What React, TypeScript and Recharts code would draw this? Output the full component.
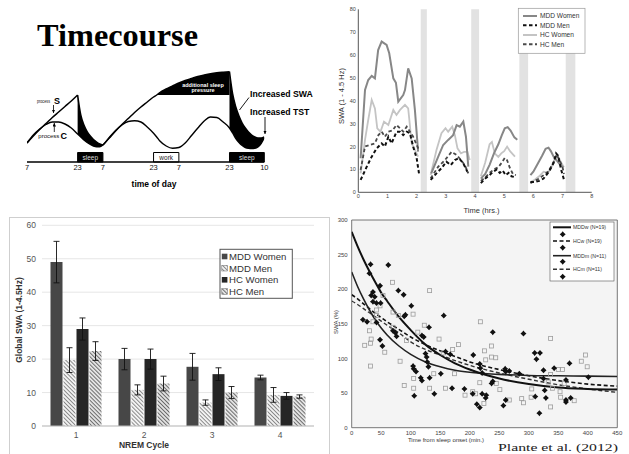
import React from "react";
import {
  ComposedChart,
  BarChart,
  Line,
  Area,
  Bar,
  Scatter,
  ErrorBar,
  XAxis,
  YAxis,
  CartesianGrid,
  ReferenceArea,
} from "recharts";

const FONT = '"Liberation Sans", Arial, sans-serif';

// ---------- Timecourse: two-process model (hours after 07:00 on day 1) ----------
const modelHours = [
  0, 2, 4, 6, 8, 10, 12, 14, 16,
  17, 18, 19, 20, 21, 22, 23, 24,
  26, 28, 30, 32, 34, 36, 38, 40,
  41,
  42, 44, 46, 48, 50, 52, 54, 56, 58, 60, 62, 64,
  65, 66, 67, 68, 69, 70, 71, 72, 73, 74, 75,
];
const processS = [
  19, 26, 32.5, 38.5, 44.5, 50, 55.5, 61, 67,
  47, 37, 30.5, 26, 22.5, 20, 18, 17,
  24, 31, 37.5, 43.5, 49.5, 55, 60, 65,
  67,
  69.5, 73, 76, 79, 81.5, 83.5, 85.5, 87, 88.3, 89.2, 89.8, 90.3,
  68, 55, 46, 39, 34, 30, 27, 25, 24, 24, 25,
];
const processC = [
  19, 27, 33, 37.5, 40, 40, 38, 34, 28,
  25, 22, 19.5, 17.5, 16, 15.3, 15.3, 17,
  24.5, 31.5, 37, 40.5, 41.3, 40, 35, 28.7,
  25,
  21, 16, 13.7, 14.5, 19, 26.5, 34, 41, 45, 44.5, 40, 34,
  29, 23.5, 19.5, 16.5, 14.5, 13.7, 13.5, 13.7, 15, 18.5, 24,
];
const wakePeriods = [[0, 16], [24, 64]];
const sleepPeriods = [[16, 24], [64, 75]];
const normalPeak = 67;
const extraPressure = [41, 64];
const dayTicks = [0, 16, 24, 40, 48, 64, 75];
const dayTickLabels = ["7", "23", "7", "23", "7", "23", "10"];
const boxStart = [16, 40, 64];
const boxEnd = [24, 48, 75];
const boxLabel = ["sleep", "work", "sleep"];

const within = (h: number, periods: number[][]) => periods.some(([a, b]) => h >= a && h <= b);

const modelData = modelHours.map((h, i) => ({
  h,
  c: processC[i],
  sWake: within(h, wakePeriods) ? processS[i] : null,
  sSleep: within(h, sleepPeriods) ? processS[i] : null,
  sleepBand: within(h, sleepPeriods) ? [processC[i], processS[i]] : null,
  extraBand: within(h, [extraPressure]) ? [normalPeak, processS[i]] : null,
}));

// ---------- SWA over the night (top right) ----------
const hourTicks = [0, 1, 2, 3, 4, 5, 6, 7, 8];
const swaTicks = [0, 10, 20, 30, 40, 50, 60, 70, 80];
const remStart = [2.14, 3.87, 5.52, 7.11];
const remEnd = [2.35, 4.14, 5.82, 7.44];

const mddWomenT = [0.08, 0.23, 0.34, 0.46, 0.57, 0.68, 0.8, 0.97, 1.06, 1.2, 1.29, 1.37, 1.54, 1.6, 1.71, 1.83, 1.94, 2.05, 2.2,
  2.5, 2.74, 2.91, 3.08, 3.25, 3.37, 3.48, 3.6, 3.69, 3.77, 3.95,
  4.2, 4.35, 4.5, 4.65, 4.8, 4.92, 5.02, 5.12, 5.22, 5.35, 5.45, 5.6,
  5.9, 6.0, 6.15, 6.3, 6.42, 6.52, 6.6, 6.7, 6.8, 6.92, 7.02];
const mddWomenV = [14.9, 44.7, 49.1, 50.9, 49.8, 62.2, 65.9, 64.4, 60.8, 49.8, 47.9, 39.6, 42.5, 44.7, 54.2, 49.8, 36, 17.8, null,
  8.3, 15.6, 20.7, 22.9, 25, 29.4, 28.7, 30.9, 24.3, 11.2, null,
  6, 8, 12, 17, 21, 25, 28, 28.5, 27, 24, 23, null,
  7.5, 9, 12.5, 16, 19, 19.5, 18, 15.5, 14, 12, 11];

const hcWomenT = [0.08, 0.23, 0.34, 0.46, 0.57, 0.65, 0.76, 0.88, 1.03, 1.2, 1.31, 1.43, 1.6, 1.71, 1.83, 1.94, 2.05, 2.2,
  2.48, 2.68, 2.85, 2.99, 3.08, 3.22, 3.31, 3.4, 3.52, 3.63, 3.74, 3.82, 3.95,
  4.2, 4.35, 4.5, 4.58, 4.68, 4.8, 4.9, 5.0, 5.1, 5.2, 5.37, 5.6,
  5.9, 6.05, 6.2, 6.35, 6.5, 6.6, 6.72, 6.8, 6.88, 6.95, 7.05];
const hcWomenV = [8.3, 22.9, 31.6, 40.4, 36.7, 28, 26.5, 30.9, 29.4, 36, 33.8, 36, 38.2, 36.7, 21.4, 18.5, 15.6, null,
  7.6, 18.5, 25.8, 28, 26.5, 28.7, 25, 19.2, 17, 17.7, 17.7, 14.1, null,
  7, 13, 21, 22, 17, 15.5, 17, 18, 20, 18, 15.6, null,
  4.5, 5.5, 7, 9, 8.5, 10.5, 13.5, 16, 15, 13, 11];

const mddMenT = [0.08, 0.29, 0.46, 0.63, 0.8, 0.91, 1.03, 1.14, 1.31, 1.43, 1.54, 1.66, 1.77, 1.88, 2.0, 2.08, 2.2,
  2.48, 2.68, 2.85, 3.02, 3.17, 3.31, 3.45, 3.6, 3.74, 3.95,
  4.2, 4.35, 4.5, 4.62, 4.75, 4.85, 4.95, 5.05, 5.15, 5.25, 5.4, 5.6,
  5.9, 6.05, 6.2, 6.35, 6.5, 6.6, 6.7, 6.78, 6.85, 6.95, 7.05];
const mddMenV = [5.4, 11.2, 15.6, 19.2, 21.4, 20, 24.3, 21.4, 26.5, 26.5, 25, 26.5, 25.8, 20, 14.9, 8.3, null,
  5.4, 8.3, 10.5, 13.4, 11.9, 14.1, 14.9, 12.6, 9, null,
  4, 6, 7.5, 9, 10, 8.5, 9.5, 7.5, 8.5, 7, 6.5, null,
  4.5, 4.5, 5, 6, 8.5, 10.5, 13, 17, 16, 10, 5.5];

const hcMenT = [0.08, 0.23, 0.4, 0.57, 0.69, 0.8, 0.91, 1.03, 1.17, 1.31, 1.43, 1.54, 1.66, 1.77, 1.88, 2.0, 2.08, 2.2,
  2.48, 2.74, 2.97, 3.2, 3.37, 3.52, 3.65, 3.77, 3.95,
  4.2, 4.35, 4.5, 4.65, 4.8, 4.92, 5.02, 5.1, 5.2, 5.3, 5.4, 5.6,
  5.9, 6.05, 6.2, 6.35, 6.5, 6.62, 6.72, 6.8, 6.9, 7.0, 7.05];
const hcMenV = [9.8, 20, 20.7, 21.4, 25, 26.5, 24.3, 26.5, 27, 29.4, 28, 26.5, 28.7, 26.5, 24.3, 20.7, 18.5, null,
  6.1, 11.2, 14.1, 17.7, 16.3, 14.1, 11.9, 8.3, null,
  5, 6.5, 8.5, 10, 11, 13, 15, 14, 10.5, 8, 7.5, null,
  4, 5, 6, 7.5, 9, 11.5, 14, 16.5, 14, 11, 8];

const toSeries = (t: number[], v: (number | null)[]) => t.map((x, i) => ({ t: x, v: v[i] }));

// ---------- Global SWA per NREM cycle (bottom left) ----------
const cycles = ["1", "2", "3", "4"];
const mddWomenSwa = [49, 20, 17.7, 14.5];
const mddWomenErr = [6.2, 3.2, 4, 0.7];
const mddMenSwa = [19.7, 10.8, 7, 9.3];
const mddMenErr = [3.7, 1.5, 0.8, 2.2];
const hcWomenSwa = [29, 20, 15.5, 9];
const hcWomenErr = [3.3, 3, 1.9, 1];
const hcMenSwa = [22.4, 12.7, 10, 8.8];
const hcMenErr = [2.8, 2.2, 1.8, 0.5];
const globalTicks = [0, 10, 20, 30, 40, 50, 60];

const cycleData = cycles.map((cycle, i) => ({
  cycle,
  mddW: mddWomenSwa[i], mddWErr: mddWomenErr[i],
  mddM: mddMenSwa[i], mddMErr: mddMenErr[i],
  hcW: hcWomenSwa[i], hcWErr: hcWomenErr[i],
  hcM: hcMenSwa[i], hcMErr: hcMenErr[i],
}));

// ---------- SWA decay vs time from sleep onset (bottom right) ----------
const onsetTicks = [0, 50, 100, 150, 200, 250, 300, 350, 400, 450];
const pctTicks = [0, 50, 100, 150, 200, 250, 300];
const fitMinutes = [0, 10, 20, 30, 40, 50, 60, 80, 100, 125, 150, 175, 200, 250, 300, 350, 400, 450];
const fitMddW = [283, 262, 243, 226, 210, 195, 183, 160, 141, 120, 105, 93, 84, 71, 63, 58, 56, 55];
const fitMddM = [225, 204, 186, 170, 156, 144, 134, 118, 106, 95, 88, 83, 80, 77, 75.5, 75, 74.5, 74];
const fitHcW = [192, 186, 179, 172, 165, 159, 153, 142, 131, 120, 111, 103, 95, 84, 75, 68, 63, 60];
const fitHcM = [183, 178, 172, 166, 160, 154, 148, 137, 124, 113, 105, 97, 90, 79, 70, 62, 56, 51];

const mddPoints: [number, number][] = [
  [32, 236], [30, 223], [62, 235], [36, 196], [33, 191], [39, 189], [48, 205], [36, 182], [42, 180], [49, 180],
  [19, 156], [26, 153], [42, 152], [48, 127], [52, 118], [79, 198], [88, 192], [91, 163], [89, 161], [70, 140],
  [74, 137], [76, 132], [101, 176], [105, 85], [104, 89], [109, 81], [106, 46], [119, 133], [122, 131], [131, 145],
  [125, 107], [127, 102], [128, 95], [130, 88], [117, 72], [119, 68], [132, 72], [140, 49], [156, 162], [159, 110],
  [151, 78], [167, 106], [170, 57], [191, 56], [205, 49], [206, 105], [212, 34], [217, 29], [217, 92], [218, 86],
  [221, 79], [221, 49], [227, 43], [228, 47], [239, 138], [237, 64], [239, 67], [260, 85], [261, 81], [257, 32],
  [261, 40], [267, 82], [284, 78], [291, 136], [310, 108], [319, 108], [313, 99], [325, 83], [325, 71], [311, 45],
  [318, 21], [327, 54], [329, 43], [343, 86], [363, 69], [363, 40], [363, 37], [371, 43], [369, 93], [401, 73],
];
const hcPoints: [number, number][] = [
  [22, 119], [30, 140], [33, 128], [32, 122], [32, 89], [36, 153], [42, 162], [42, 170], [48, 176], [53, 191],
  [56, 109], [69, 210], [70, 167], [70, 145], [79, 162], [82, 96], [89, 61], [93, 126], [104, 164], [105, 71],
  [105, 57], [112, 138], [123, 148], [132, 198], [132, 57], [139, 78], [148, 128], [155, 108], [159, 57], [171, 113],
  [181, 120], [174, 78], [192, 47], [205, 52], [218, 153], [225, 111], [227, 98], [237, 118], [237, 102], [244, 101],
  [224, 35], [210, 49], [245, 64], [251, 55], [217, 65], [267, 40], [291, 36], [288, 42], [305, 56], [304, 44],
  [337, 129], [337, 30], [333, 66], [340, 57], [350, 84], [357, 84], [353, 52], [354, 44], [377, 39], [389, 96],
  [396, 105], [399, 88], [337, 77], [360, 64],
];

const fitSeries = (v: number[]) => fitMinutes.map((x, i) => ({ x, y: v[i] }));
const toPoints = (p: [number, number][]) => p.map(([x, y]) => ({ x, y }));

const StarMark = (props: any) => {
  const { cx, cy } = props;
  const r = 3, k = 1.4;
  return (
    <path
      d={`M${cx},${cy - r}L${cx + k},${cy - k}L${cx + r},${cy}L${cx + k},${cy + k}L${cx},${cy + r}L${cx - k},${cy + k}L${cx - r},${cy}L${cx - k},${cy - k}Z`}
      fill="#111"
    />
  );
};
const SquareMark = (props: any) => {
  const { cx, cy } = props;
  return <rect x={cx - 2} y={cy - 2} width={4} height={4} fill="none" stroke="#9c9c9c" strokeWidth={0.8} />;
};

function TimecourseChart() {
  return (
    <ComposedChart width={300} height={200} data={modelData} margin={{ top: 60, right: 35.7, bottom: 8, left: 27 }}>
      <XAxis
        dataKey="h"
        type="number"
        domain={[0, 75]}
        ticks={dayTicks}
        interval={0}
        height={30}
        allowDataOverflow
        tickLine={false}
        tickSize={0}
        tickMargin={3}
        tickFormatter={(v) => dayTickLabels[dayTicks.indexOf(v)]}
        axisLine={{ stroke: "#000", strokeWidth: 1.6 }}
        tick={{ fontSize: 7.5, fill: "#111" }}
      />
      <YAxis hide type="number" domain={[0, 102]} allowDataOverflow />
      <Area dataKey="extraBand" type="monotone" stroke="none" fill="#000" fillOpacity={1} isAnimationActive={false} />
      <Area dataKey="sleepBand" type="monotone" stroke="none" fill="#000" fillOpacity={1} isAnimationActive={false} />
      <Line dataKey="sWake" type="monotone" stroke="#000" strokeWidth={1.5} dot={false} isAnimationActive={false} />
      <Line dataKey="sSleep" type="monotone" stroke="#000" strokeWidth={1.5} dot={false} isAnimationActive={false} />
      <Line dataKey="c" type="monotone" stroke="#000" strokeWidth={1.4} dot={false} isAnimationActive={false} />
      {boxStart.map((x1, i) => (
        <ReferenceArea
          key={i}
          x1={x1}
          x2={boxEnd[i]}
          y1={0}
          y2={9.5}
          fill={boxLabel[i] === "sleep" ? "#000" : "#fff"}
          fillOpacity={1}
          stroke="#000"
          strokeWidth={1}
          label={{ value: boxLabel[i], fontSize: 6.5, fill: boxLabel[i] === "sleep" ? "#ddd" : "#222" }}
        />
      ))}
    </ComposedChart>
  );
}

function NightSwaChart() {
  const tickStyle = { fontSize: 5.5, fill: "#444" };
  return (
    <ComposedChart width={319} height={215} margin={{ top: 9.3, right: 37.3, bottom: 0.7, left: 0 }}>
      <XAxis
        dataKey="t"
        type="number"
        domain={[0, 8]}
        ticks={hourTicks}
        interval={0}
        height={22}
        allowDataOverflow
        tickLine={false}
        tickSize={0}
        tickMargin={2}
        axisLine={{ stroke: "#555" }}
        tick={tickStyle}
      />
      <YAxis
        type="number"
        domain={[0, 80]}
        ticks={swaTicks}
        interval={0}
        width={48.3}
        tickLine={false}
        tickSize={0}
        tickMargin={2.5}
        axisLine={{ stroke: "#555" }}
        tick={tickStyle}
      />
      {remStart.map((x1, i) => (
        <ReferenceArea key={i} x1={x1} x2={remEnd[i]} y1={0} y2={80} fill="#e2e2e2" fillOpacity={1} stroke="none" />
      ))}
      <Line data={toSeries(hcWomenT, hcWomenV)} dataKey="v" type="linear" stroke="#c4c4c4" strokeWidth={1.8} dot={false} isAnimationActive={false} />
      <Line data={toSeries(mddWomenT, mddWomenV)} dataKey="v" type="linear" stroke="#878787" strokeWidth={2} dot={false} isAnimationActive={false} />
      <Line data={toSeries(hcMenT, hcMenV)} dataKey="v" type="linear" stroke="#4a4a4a" strokeWidth={1.8} strokeDasharray="3.5 2.5" dot={false} isAnimationActive={false} />
      <Line data={toSeries(mddMenT, mddMenV)} dataKey="v" type="linear" stroke="#111" strokeWidth={2} strokeDasharray="3.5 2.5" dot={false} isAnimationActive={false} />
    </ComposedChart>
  );
}

function CycleBarChart() {
  const tickStyle = { fontSize: 8.5, fill: "#555" };
  return (
    <BarChart width={321} height={237} data={cycleData} margin={{ top: 8.3, right: 16, bottom: 8, left: 0 }} barCategoryGap="12.5%" barGap={1}>
      <CartesianGrid vertical={false} stroke="#e6e6e6" />
      <XAxis dataKey="cycle" height={20} interval={0} tickLine={false} tickSize={4} tickMargin={2} axisLine={{ stroke: "#bdbdbd" }} tick={tickStyle} />
      <YAxis type="number" domain={[0, 60]} ticks={globalTicks} interval={0} width={33} axisLine={false} tickLine={false} tickSize={4} tickMargin={2} tick={tickStyle} />
      <Bar dataKey="mddW" fill="#474747" isAnimationActive={false}>
        <ErrorBar dataKey="mddWErr" width={3} stroke="#111" strokeWidth={0.9} />
      </Bar>
      <Bar dataKey="mddM" fill="url(#hatchMddMen)" isAnimationActive={false}>
        <ErrorBar dataKey="mddMErr" width={3} stroke="#111" strokeWidth={0.9} />
      </Bar>
      <Bar dataKey="hcW" fill="#262626" isAnimationActive={false}>
        <ErrorBar dataKey="hcWErr" width={3} stroke="#111" strokeWidth={0.9} />
      </Bar>
      <Bar dataKey="hcM" fill="url(#hatchHcMen)" isAnimationActive={false}>
        <ErrorBar dataKey="hcMErr" width={3} stroke="#111" strokeWidth={0.9} />
      </Bar>
    </BarChart>
  );
}

function DecayScatterChart() {
  const tickStyle = { fontSize: 6, fill: "#444" };
  return (
    <ComposedChart width={299} height={239} margin={{ top: 5, right: 11.7, bottom: 0.3, left: 0 }}>
      <XAxis dataKey="x" type="number" domain={[0, 450]} ticks={onsetTicks} interval={0} height={26} allowDataOverflow
        tickLine={false} tickSize={2} tickMargin={1.5} axisLine={false} tick={tickStyle} />
      <YAxis dataKey="y" type="number" domain={[0, 300]} ticks={pctTicks} interval={0} width={21.7} allowDataOverflow
        tickLine={false} tickSize={2} tickMargin={2} axisLine={false} tick={tickStyle} />
      <ReferenceArea x1={0} x2={450} y1={0} y2={300} fill="#f4f4f4" fillOpacity={1} stroke="#555" strokeWidth={0.8} />
      <Scatter data={toPoints(hcPoints)} shape={SquareMark} isAnimationActive={false} />
      <Scatter data={toPoints(mddPoints)} shape={StarMark} isAnimationActive={false} />
      <Line data={fitSeries(fitHcW)} dataKey="y" type="monotone" stroke="#111" strokeWidth={1.6} strokeDasharray="4 2.5" dot={false} isAnimationActive={false} />
      <Line data={fitSeries(fitHcM)} dataKey="y" type="monotone" stroke="#333" strokeWidth={1.4} strokeDasharray="4 2.5" dot={false} isAnimationActive={false} />
      <Line data={fitSeries(fitMddM)} dataKey="y" type="monotone" stroke="#222" strokeWidth={1.6} dot={false} isAnimationActive={false} />
      <Line data={fitSeries(fitMddW)} dataKey="y" type="monotone" stroke="#111" strokeWidth={2} dot={false} isAnimationActive={false} />
    </ComposedChart>
  );
}

function Overlay() {
  return (
    <svg width={629} height={454} style={{ position: "absolute", left: 0, top: 0, pointerEvents: "none", fontFamily: FONT }}>
      <defs>
        <marker id="arrowHead" viewBox="0 0 6 6" refX={6} refY={3} markerWidth={3.5} markerHeight={3.5} markerUnits="userSpaceOnUse" orient="auto">
          <path d="M0,0L6,3L0,6Z" fill="#000" />
        </marker>
      </defs>

      {/* timecourse panel */}
      <text x={37} y={45.5} fontFamily='"Liberation Serif", serif' fontWeight="bold" fontSize={32} textLength={161} lengthAdjust="spacingAndGlyphs">
        Timecourse
      </text>
      <text x={37} y={102.8} fontSize={5} fill="#111" textLength={13} lengthAdjust="spacingAndGlyphs">process</text>
      <text x={54} y={103.5} fontSize={9} fontWeight="bold">S</text>
      <line x1={53.5} y1={105} x2={53.5} y2={113} stroke="#000" strokeWidth={0.8} markerEnd="url(#arrowHead)" />
      <text x={38.3} y={138.3} fontSize={5.5} fill="#111" textLength={21} lengthAdjust="spacingAndGlyphs">process</text>
      <text x={60.5} y={138.5} fontSize={9} fontWeight="bold">C</text>
      <line x1={54.3} y1={132} x2={54.3} y2={123} stroke="#000" strokeWidth={0.8} markerEnd="url(#arrowHead)" />
      <text x={203} y={86.5} textAnchor="middle" fontSize={5.5} fontWeight="bold" fill="#fff">additional sleep</text>
      <text x={203} y={92} textAnchor="middle" fontSize={5.5} fontWeight="bold" fill="#fff">pressure</text>
      <text x={250} y={96.5} fontSize={8.7} fontWeight="bold">Increased SWA</text>
      <line x1={249} y1={97.5} x2={239.5} y2={110} stroke="#000" strokeWidth={0.9} />
      <text x={250} y={115} fontSize={8.7} fontWeight="bold">Increased TST</text>
      <line x1={265} y1={117} x2={265} y2={134} stroke="#000" strokeWidth={0.9} markerEnd="url(#arrowHead)" />
      <text x={154} y={186.5} textAnchor="middle" fontSize={8.5} fontWeight="bold">time of day</text>

      {/* night SWA panel */}
      <text transform="translate(343.5,96) rotate(-90)" textAnchor="middle" fontSize={7.5} fill="#333">SWA (1 - 4.5 Hz)</text>
      <text x={481.5} y={213} textAnchor="middle" fontSize={7.5} fill="#333">Time (hrs.)</text>
      <rect x={518.3} y={8.3} width={66.7} height={45} fill="#fff" stroke="#999" strokeWidth={0.7} />
      <line x1={523} x2={537} y1={16} y2={16} stroke="#878787" strokeWidth={2} />
      <line x1={523} x2={537} y1={25.3} y2={25.3} stroke="#111" strokeWidth={2} strokeDasharray="3.5 2.5" />
      <line x1={523} x2={537} y1={35} y2={35} stroke="#c4c4c4" strokeWidth={2} />
      <line x1={523} x2={537} y1={44.3} y2={44.3} stroke="#4a4a4a" strokeWidth={2} strokeDasharray="3.5 2.5" />
      <text x={540} y={18.3} fontSize={6.6} fill="#333">MDD Women</text>
      <text x={540} y={27.6} fontSize={6.6} fill="#333">MDD Men</text>
      <text x={540} y={37.3} fontSize={6.6} fill="#333">HC Women</text>
      <text x={540} y={46.6} fontSize={6.6} fill="#333">HC Men</text>

      {/* NREM cycle bar panel */}
      <rect x={9.5} y={217.5} width={320} height={240} fill="none" stroke="#cfcfcf" strokeWidth={1} />
      <text transform="translate(21.5,320) rotate(-90)" textAnchor="middle" fontSize={8.5} fontWeight="bold" fill="#333">Global SWA (1-4.5Hz)</text>
      <text x={144} y={448} textAnchor="middle" fontSize={8.5} fontWeight="bold" fill="#333">NREM Cycle</text>
      <rect x={220} y={249.3} width={72.3} height={49} fill="#fff" stroke="#555" strokeWidth={1} />
      <rect x={221.8} y={253.7} width={5.6} height={5.6} fill="#474747" />
      <rect x={221.8} y={265.4} width={5.6} height={5.6} fill="url(#hatchMddMen)" stroke="#666" strokeWidth={0.5} />
      <rect x={221.8} y={277} width={5.6} height={5.6} fill="#262626" />
      <rect x={221.8} y={288.7} width={5.6} height={5.6} fill="url(#hatchHcMen)" stroke="#666" strokeWidth={0.5} />
      <text x={229} y={260} fontSize={9.6} fill="#333">MDD Women</text>
      <text x={229} y={271.7} fontSize={9.6} fill="#333">MDD Men</text>
      <text x={229} y={283.3} fontSize={9.6} fill="#333">HC Women</text>
      <text x={229} y={295} fontSize={9.6} fill="#333">HC Men</text>

      {/* decay scatter panel */}
      <text transform="translate(337.5,322) rotate(-90)" textAnchor="middle" fontSize={6} fill="#333">SWA (%)</text>
      <text x={446} y={441.5} textAnchor="middle" fontSize={6} fill="#333">Time from sleep onset (min.)</text>
      <rect x={550} y={222} width={64} height={59} fill="#fff" stroke="#555" strokeWidth={0.6} />
      <line x1={553} x2={571} y1={227.3} y2={227.3} stroke="#111" strokeWidth={2} />
      <line x1={553} x2={571} y1={241} y2={241} stroke="#111" strokeWidth={1.6} strokeDasharray="4 2.5" />
      <line x1={553} x2={571} y1={255.7} y2={255.7} stroke="#222" strokeWidth={1.6} />
      <line x1={553} x2={571} y1={269.3} y2={269.3} stroke="#333" strokeWidth={1.4} strokeDasharray="4 2.5" />
      <StarMark cx={562.7} cy={234.3} />
      <StarMark cx={562.7} cy={247.7} />
      <StarMark cx={562.7} cy={261.7} />
      <StarMark cx={562.7} cy={276.7} />
      <text x={573} y={229.2} fontSize={5.2} fill="#333">MDDw (N=19)</text>
      <text x={573} y={242.9} fontSize={5.2} fill="#333">HCw (N=19)</text>
      <text x={573} y={257.6} fontSize={5.2} fill="#333">MDDm (N=11)</text>
      <text x={573} y={271.2} fontSize={5.2} fill="#333">HCm (N=11)</text>
      <text x={498} y={450.5} fontFamily='"Liberation Serif", serif' fontSize={11} fill="#222" textLength={120} lengthAdjust="spacingAndGlyphs">
        Plante et al. (2012)
      </text>
    </svg>
  );
}

export default function App() {
  return (
    <div style={{ position: "relative", width: 629, height: 454, overflow: "hidden", background: "#fff", fontFamily: FONT }}>
      <style>{"body{margin:0}"}</style>
      <svg width={0} height={0} style={{ position: "absolute" }}>
        <defs>
          <pattern id="hatchMddMen" patternUnits="userSpaceOnUse" width={2.8} height={2.8} patternTransform="rotate(-45)">
            <rect width={2.8} height={2.8} fill="#f2f2f2" />
            <line x1={0} y1={0} x2={0} y2={2.8} stroke="#4a4a4a" strokeWidth={1.2} />
          </pattern>
          <pattern id="hatchHcMen" patternUnits="userSpaceOnUse" width={2.8} height={2.8} patternTransform="rotate(-45)">
            <rect width={2.8} height={2.8} fill="#e2e2e2" />
            <line x1={0} y1={0} x2={0} y2={2.8} stroke="#333" strokeWidth={1.3} />
          </pattern>
        </defs>
      </svg>
      <div style={{ position: "absolute", left: 0, top: 0 }}>
        <TimecourseChart />
      </div>
      <div style={{ position: "absolute", left: 310, top: 0 }}>
        <NightSwaChart />
      </div>
      <div style={{ position: "absolute", left: 9, top: 217 }}>
        <CycleBarChart />
      </div>
      <div style={{ position: "absolute", left: 330, top: 215 }}>
        <DecayScatterChart />
      </div>
      <Overlay />
    </div>
  );
}
